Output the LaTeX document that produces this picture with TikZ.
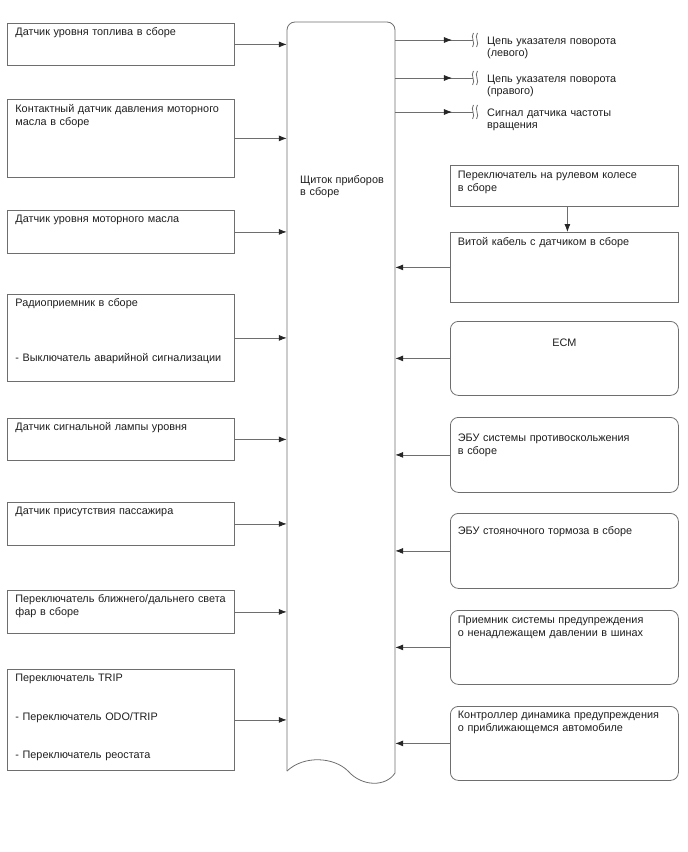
\documentclass[tikz,border=0pt]{standalone}
\usepackage{fontspec}
\setmainfont{Liberation Sans}
\usetikzlibrary{arrows.meta,decorations.markings}
\definecolor{lineg}{HTML}{6E6E6E}
\definecolor{txt}{HTML}{1E1E1E}
\begin{document}
\begin{tikzpicture}[x=1bp,y=-1bp,
  line/.style={draw=lineg, line width=0.8bp},
  arr/.style={line, -{Latex[length=8bp,width=6bp,color=black!85]}},
  midarr/.style={line, postaction={decorate}, decoration={markings, mark=at position 0.73 with {\arrow{Latex[length=8bp,width=6bp,color=black!85]}}}},
  basebox/.style={line, anchor=north west, inner xsep=7.5bp, inner ysep=3bp, align=left, text=txt, font=\fontsize{10.9}{13}\selectfont},
  lbox/.style={basebox, text width=211bp, inner xsep=8bp},
  rbox/.style={basebox, text width=213bp},
  rrbox/.style={rbox, rounded corners=8bp},
  lab/.style={anchor=base west, align=left, text width=190bp, inner sep=0pt, text=txt, font=\fontsize{10.9}{13}\selectfont},
  squiggle/.pic={\draw[line] (0.5,-7) .. controls (-3,-3) and (3,3) .. (-0.5,7);
                 \draw[line] (4.5,-7) .. controls (1,-3) and (7,3) .. (3.5,7);}
]
\useasboundingbox (0,0) rectangle (688,852);

% central panel
\node[inner sep=0pt, minimum width=108bp, minimum height=750bp] (panel) at (341,397) {};
\draw[line, rounded corners=8bp] (287,771) -- (287,22) -- (395,22) -- (395,773);
\draw[line] (395,773) .. controls (386,787) and (362,787) .. (348,771) .. controls (334,757) and (304,755) .. (287,771);
\node[lab, text width=100bp] (ptext) at (300,183) {Щиток приборов\\в сборе};

% left boxes
\node[lbox, text height=9bp, text depth=27bp] (L1) at (7,23) {Датчик уровня топлива в сборе};
\node[lbox, text height=10bp, text depth=62bp] (L2) at (7,99) {\mbox{Контактный датчик давления моторного}\\масла в сборе};
\node[lbox, text height=9bp, text depth=28bp] (L3) at (7,210) {Датчик уровня моторного масла};
\node[lbox, text height=9bp, text depth=72bp] (L4) at (7,294) {Радиоприемник в сборе\\[42bp]\mbox{- Выключатель аварийной сигнализации}};
\node[lbox, text height=9bp, text depth=27bp] (L5) at (7,418) {Датчик сигнальной лампы уровня};
\node[lbox, text height=9bp, text depth=28bp] (L6) at (7,502) {Датчик присутствия пассажира};
\node[lbox, text height=9bp, text depth=28bp] (L7) at (7,590) {\mbox{Переключатель ближнего/дальнего света}\\фар в сборе};
\node[lbox, text height=9bp, text depth=86bp] (L8) at (7,669) {Переключатель TRIP\\[26bp]- Переключатель ODO/TRIP\\[25bp]- Переключатель реостата};

\foreach \n in {L1,L2,L3,L4,L5,L6,L7,L8}
  \draw[arr] (\n.east) -- (\n.east -| panel.west);

% right boxes
\node[rbox, text height=10bp, text depth=25bp] (R1) at (450,165) {\mbox{Переключатель на рулевом колесе}\\в сборе};
\node[rbox, text height=10bp, text depth=54bp] (R2) at (450,232) {Витой кабель с датчиком в сборе};
\node[rrbox, align=center, text height=22bp, text depth=46bp] (R3) at (450,321) {ECM};
\node[rrbox, text height=21bp, text depth=48bp] (R4) at (450,417) {\mbox{ЭБУ системы противоскольжения}\\в сборе};
\node[rrbox, text height=18bp, text depth=51bp] (R5) at (450,513) {\mbox{ЭБУ стояночного тормоза в сборе}};
\node[rrbox, text height=10bp, text depth=58bp] (R6) at (450,610) {\mbox{Приемник системы предупреждения}\\\mbox{о ненадлежащем давлении в шинах}};
\node[rrbox, text height=9bp, text depth=59bp] (R7) at (450,706) {\mbox{Контроллер динамика предупреждения}\\о приближающемся автомобиле};

\draw[arr] ([xshift=3bp]R1.south) -- ([xshift=3bp]R1.south |- R2.north);
\foreach \n in {R2,R3,R4,R5,R6,R7}
  \draw[arr] (\n.west) -- (\n.west -| panel.east);

% outputs
\coordinate (s1) at (473,40);
\coordinate (s2) at (473,78);
\coordinate (s3) at (473,112);
\foreach \s in {s1,s2,s3}{
  \draw[midarr] (panel.east |- \s) -- (\s);
  \pic at (\s) {squiggle};
}
\node[lab] (T1) at (487,44) {Цепь указателя поворота\\(левого)};
\node[lab] (T2) at (487,82) {Цепь указателя поворота\\(правого)};
\node[lab] (T3) at (487,116) {Сигнал датчика частоты\\вращения};
\end{tikzpicture}
\end{document}
